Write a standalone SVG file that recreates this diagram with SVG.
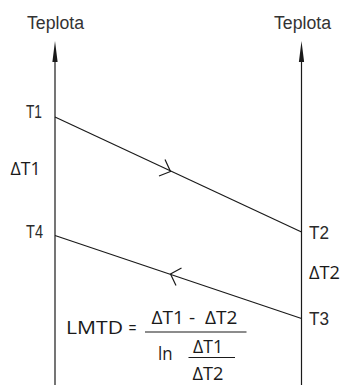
<svg xmlns="http://www.w3.org/2000/svg" width="341" height="385" viewBox="0 0 341 385">
<style>
.lbl{font-family:"Liberation Sans",Arial,sans-serif;font-size:17.5px;fill:#2a2a2a}
.tp{font-family:"Liberation Sans",Arial,sans-serif;font-size:18px;fill:#333}
.f{font-family:"Open Sans","Liberation Sans",sans-serif;font-size:17.5px;fill:#1a1a1a}
.ln{stroke:#1a1a1a;stroke-width:1.2;fill:none}
.ax{stroke:#1a1a1a;stroke-width:1.2;fill:none}
.hd{fill:#1a1a1a}
</style>
<rect width="341" height="385" fill="#fff"/>
<g id="axis-left">
<line class="ax" x1="55" y1="58" x2="55" y2="385"/>
<polygon class="hd" points="55,41 57.6,62 52.4,62"/>
<text class="tp" x="27" y="29" textLength="57" lengthAdjust="spacingAndGlyphs">Teplota</text>
</g>
<g id="axis-right">
<line class="ax" x1="301.5" y1="58" x2="301.5" y2="385"/>
<polygon class="hd" points="301.5,41 304.1,62 298.9,62"/>
<text class="tp" x="274" y="29" textLength="57" lengthAdjust="spacingAndGlyphs">Teplota</text>
</g>
<g id="connectors">
<line class="ln" x1="55" y1="117" x2="301.5" y2="232"/>
<polyline class="ln" points="165,159.5 170.5,171.5 159,176"/>
<line class="ln" x1="55" y1="235.5" x2="301.5" y2="318.5"/>
<polyline class="ln" points="181.5,268 170.5,274 176,285.5"/>
</g>
<g id="labels">
<text class="lbl" x="26" y="117.5" textLength="16" lengthAdjust="spacingAndGlyphs">T1</text>
<text class="f" x="10.5" y="175" textLength="30" lengthAdjust="spacingAndGlyphs">ΔT1</text>
<text class="lbl" x="26" y="238" textLength="17" lengthAdjust="spacingAndGlyphs">T4</text>
<text class="lbl" x="309" y="239" textLength="20" lengthAdjust="spacingAndGlyphs">T2</text>
<text class="f" x="309" y="278.5" textLength="31" lengthAdjust="spacingAndGlyphs">ΔT2</text>
<text class="lbl" x="309" y="325" textLength="20" lengthAdjust="spacingAndGlyphs">T3</text>
</g>
<g id="formula">
<text class="f" x="66" y="334" textLength="57" lengthAdjust="spacingAndGlyphs">LMTD</text>
<text class="f" x="128.5" y="334" textLength="8" lengthAdjust="spacingAndGlyphs">=</text>
<text class="f" x="151.5" y="324" xml:space="preserve" textLength="86" lengthAdjust="spacingAndGlyphs">ΔT1 -  ΔT2</text>
<line class="ln" x1="145" y1="332" x2="246.5" y2="332"/>
<text class="f" x="158" y="360" textLength="14.5" lengthAdjust="spacingAndGlyphs">ln</text>
<text class="f" x="193" y="352.5" textLength="30" lengthAdjust="spacingAndGlyphs">ΔT1</text>
<line class="ln" x1="188.5" y1="357.5" x2="235" y2="357.5"/>
<text class="f" x="192.5" y="380" textLength="31" lengthAdjust="spacingAndGlyphs">ΔT2</text>
</g>
</svg>
